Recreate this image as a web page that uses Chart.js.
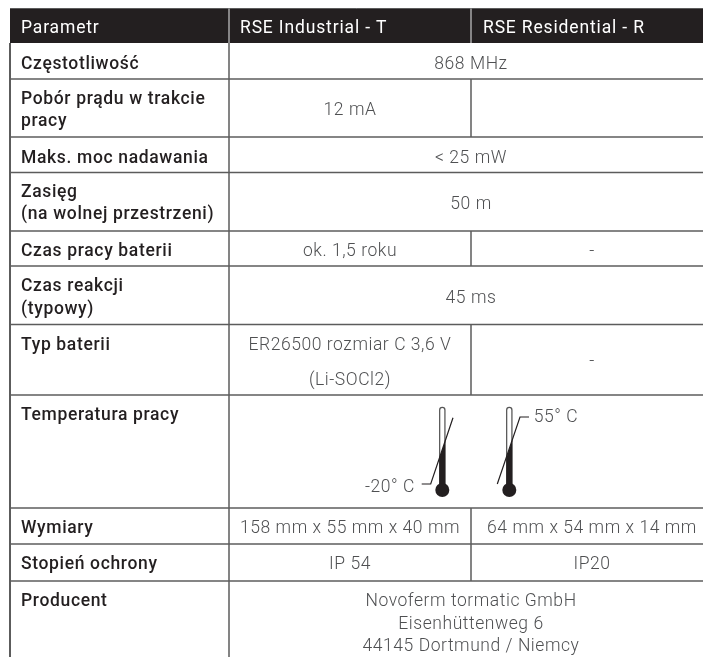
<!DOCTYPE html>
<html lang="pl">
<head>
<meta charset="utf-8">
<title>Parametry RSE</title>
<script src="https://cdn.jsdelivr.net/npm/chart.js@4/dist/chart.umd.min.js"></script>
<style>
  html, body { margin: 0; padding: 0; background: #fff; }
  canvas { display: block; }
</style>
</head>
<body>
<canvas id="specTable" width="703" height="657"></canvas>
<script>
// Table content
const headerLabels = ['Parametr', 'RSE Industrial - T', 'RSE Residential - R'];
const parameterLabels = [
    ['Częstotliwość'],
    ['Pobór prądu w trakcie', 'pracy'],
    ['Maks. moc nadawania'],
    ['Zasięg', '(na wolnej przestrzeni)'],
    ['Czas pracy baterii'],
    ['Czas reakcji', '(typowy)'],
    ['Typ baterii'],
    ['Temperatura pracy'],
    ['Wymiary'],
    ['Stopień ochrony'],
    ['Producent']
];
// residential null = the cell is merged with the industrial one
const industrialValues = [
    ['868 MHz'],
    ['12 mA'],
    ['< 25 mW'],
    ['50 m'],
    ['ok. 1,5 roku'],
    ['45 ms'],
    ['ER26500 rozmiar C 3,6 V', '(Li-SOCl2)'],
    [],
    ['158 mm x 55 mm x 40 mm'],
    ['IP 54'],
    ['Novoferm tormatic GmbH', 'Eisenhüttenweg 6', '44145 Dortmund / Niemcy']
];
const residentialValues = [null, [], null, null, ['-'], null, ['-'], null, ['64 mm x 54 mm x 14 mm'], ['IP20'], null];
const tempMin = '-20° C';
const tempMax = '55° C';

// Table geometry, in scale units
const tableWidth = 703;
const tableHeight = 657;
const colEdges = [10, 229, 471, 703];
const headerEdges = [8.5, 43];
const rowEdges = [43, 79, 137, 172.5, 231, 266, 324.5, 395, 508, 544, 581, 657];
const headerBaseline = 33;
const labelBaselines = [[69], [104, 125.5], [162.5], [197, 219], [255.7], [290.7, 314], [350], [420], [532.7], [568.7], [606]];
const valueBaselines = [[69], [115], [162.5], [209], [255.7], [303], [349.5, 385], [], [532.7], [569], [606, 628.7, 651]];
const residentialBaselines = [[], [], [], [], [255.7], [], [366], [], [532.7], [569], []];

// Thermometer shapes, in scale units
const thermoTop = 410;
const thermoBulb = 490;
const thermoColdX = 442.3;
const thermoHotX = 509.3;
const coldPointer = [{x: 453, y: 417.7}, {x: 430.7, y: 484}, {x: 421.7, y: 484}];
const hotPointer = [{x: 497.3, y: 484}, {x: 520, y: 417}, {x: 529, y: 417}];
const coldFill = [{x: 439.3, y: 458.5}, {x: 445.3, y: 440.7}, {x: 445.3, y: thermoBulb}, {x: 439.3, y: thermoBulb}];
const hotFill = [{x: 506.3, y: 458}, {x: 512.3, y: 440}, {x: 512.3, y: thermoBulb}, {x: 506.3, y: thermoBulb}];

const inkDark = '#231f20';
const inkValue = '#4f5052';
const ruleColor = '#5c5c5c';
const headerRule = '#a8a8a8';

function segment(x1, y1, x2, y2, color, width) {
    return {
        data: [{x: x1, y: y1}, {x: x2, y: y2}],
        showLine: true,
        borderColor: color,
        borderWidth: width || 1.5,
        pointRadius: 0,
        fill: false,
        tension: 0
    };
}

function buildDatasets() {
    const sets = [];

    // Header band: filled between top and bottom edge
    sets.push({
        data: [{x: colEdges[0], y: headerEdges[0]}, {x: tableWidth, y: headerEdges[0]}],
        showLine: true, borderColor: ruleColor, borderWidth: 1, pointRadius: 0,
        fill: '+1', backgroundColor: inkDark
    });
    sets.push({
        data: [{x: colEdges[0], y: headerEdges[1]}, {x: tableWidth, y: headerEdges[1]}],
        showLine: true, borderWidth: 0, pointRadius: 0, fill: false
    });
    sets.push(segment(colEdges[1], headerEdges[0], colEdges[1], headerEdges[1], headerRule));
    sets.push(segment(colEdges[2], headerEdges[0], colEdges[2], headerEdges[1], headerRule));

    // Horizontal rules
    rowEdges.slice(1, -1).forEach(y => sets.push(segment(colEdges[0], y, tableWidth, y, ruleColor)));

    // Vertical rules
    sets.push(segment(colEdges[0], rowEdges[0], colEdges[0], tableHeight, ruleColor, 2));
    sets.push(segment(colEdges[1], rowEdges[0], colEdges[1], tableHeight, ruleColor));
    residentialValues.forEach((v, i) => {
        if (v !== null) sets.push(segment(colEdges[2], rowEdges[i], colEdges[2], rowEdges[i + 1], ruleColor));
    });

    // Thermometers
    [[thermoColdX, coldFill, coldPointer], [thermoHotX, hotFill, hotPointer]].forEach(([x, fillShape, pointer]) => {
        const tube = [{x: x, y: thermoTop}, {x: x, y: thermoBulb}];
        sets.push({data: tube, showLine: true, borderColor: '#555', borderWidth: 6.5, borderCapStyle: 'round', pointRadius: 0});
        sets.push({data: tube, showLine: true, borderColor: '#fff', borderWidth: 4, borderCapStyle: 'round', pointRadius: 0});
        sets.push({
            data: fillShape, showLine: true, borderWidth: 0, pointRadius: 0,
            fill: 'shape', backgroundColor: inkDark
        });
        sets.push({
            data: [{x: x, y: thermoBulb}], showLine: false,
            pointRadius: 7, pointBackgroundColor: inkDark, pointBorderWidth: 0
        });
        sets.push({data: pointer, showLine: true, borderColor: inkDark, borderWidth: 1.2, pointRadius: 0, tension: 0, fill: false});
    });

    // later sets are painted on top
    sets.forEach((s, i) => { s.order = -i; });
    return sets;
}

const tableText = {
    id: 'tableText',
    afterDatasetsDraw(chart) {
        const {ctx, scales: {x, y}} = chart;
        const put = (text, xv, yv, align, font, color, spacing) => {
            ctx.font = font;
            ctx.letterSpacing = spacing;
            ctx.fillStyle = color;
            ctx.textAlign = align;
            ctx.textBaseline = 'alphabetic';
            ctx.fillText(text, x.getPixelForValue(xv), y.getPixelForValue(yv));
        };
        const headFont = '400 17.5px Roboto';
        const labelFont = '500 17.5px Roboto';
        const valueFont = '300 17.5px Roboto';
        ctx.save();

        put(headerLabels[0], 21, headerBaseline, 'left', headFont, '#fff', '0.85px');
        put(headerLabels[1], colEdges[1] + 11, headerBaseline, 'left', headFont, '#fff', '0.85px');
        put(headerLabels[2], colEdges[2] + 12, headerBaseline, 'left', headFont, '#fff', '0.85px');

        parameterLabels.forEach((lines, i) => {
            lines.forEach((line, j) => put(line, 21, labelBaselines[i][j], 'left', labelFont, inkDark, '0.65px'));
        });
        industrialValues.forEach((lines, i) => {
            const merged = residentialValues[i] === null;
            const cx = merged ? (colEdges[1] + colEdges[3]) / 2 + 5 : (colEdges[1] + colEdges[2]) / 2;
            lines.forEach((line, j) => put(line, cx, valueBaselines[i][j], 'center', valueFont, inkValue, '0.55px'));
        });
        residentialValues.forEach((lines, i) => {
            if (!lines) return;
            const cx = (colEdges[2] + colEdges[3]) / 2 + 5;
            lines.forEach((line, j) => put(line, cx, residentialBaselines[i][j], 'center', valueFont, inkValue, '0.55px'));
        });
        put(tempMin, 365, 491.7, 'left', valueFont, inkValue, '0.55px');
        put(tempMax, 533.7, 421.7, 'left', valueFont, inkValue, '0.55px');
        ctx.restore();
    }
};

new Chart(document.getElementById('specTable').getContext('2d'), {
    type: 'scatter',
    data: {datasets: buildDatasets()},
    options: {
        responsive: false,
        animation: false,
        devicePixelRatio: 1,
        layout: {padding: 0, autoPadding: false},
        scales: {
            x: {type: 'linear', display: false, min: 0, max: tableWidth},
            y: {type: 'linear', display: false, min: 0, max: tableHeight, reverse: true}
        },
        plugins: {legend: {display: false}, tooltip: {enabled: false}}
    },
    plugins: [tableText]
});
</script>
</body>
</html>
